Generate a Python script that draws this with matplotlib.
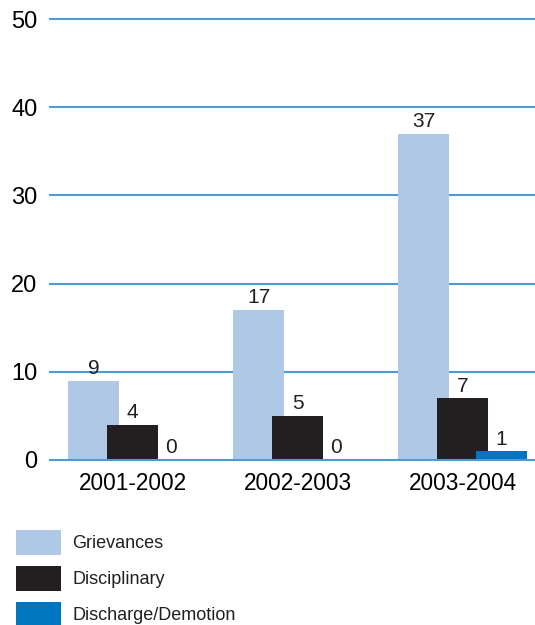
import matplotlib
matplotlib.use("Agg")
import matplotlib.pyplot as plt
from matplotlib.patches import Rectangle
import numpy as np

plt.rcParams['font.family'] = ['Liberation Sans', 'DejaVu Sans']

categories = ["2001-2002", "2002-2003", "2003-2004"]
series_names = ["Grievances", "Disciplinary", "Discharge/Demotion"]
grievances = [9, 17, 37]
disciplinary = [4, 5, 7]
discharge = [0, 0, 1]
yticks = [0, 10, 20, 30, 40, 50]

colors = ["#aec8e6", "#231f20", "#0076c0"]
grid_color = "#4a9bd6"

W, H = 535, 625
fig = plt.figure(figsize=(W / 100, H / 100), dpi=100)
ax = fig.add_axes([50 / W, (H - 460) / H, (W - 50) / W, (460 - 19) / H])

x = np.arange(len(categories))
width = 0.309
offset = 0.236
data = [grievances, disciplinary, discharge]
for i, (vals, col) in enumerate(zip(data, colors)):
    pos = x + (i - 1) * offset
    ax.bar(pos, vals, width=width, color=col, zorder=2 + i, linewidth=0)
    for p, v in zip(pos, vals):
        ax.text(p, v + 0.3, str(v), ha="center", va="bottom", fontsize=15,
                color="#231f20", zorder=10)

ax.set_xlim(-0.5, (W - 132.5) / 165)
ax.set_ylim(0, 50)
ax.set_yticks(yticks)
ax.set_yticklabels([str(t) for t in yticks], fontsize=17, color="black")
ax.set_xticks(x)
ax.set_xticklabels(categories, fontsize=16.3, color="black")
ax.tick_params(axis="both", length=0)
ax.tick_params(axis="y", pad=9)
ax.tick_params(axis="x", pad=9)
for sp in ax.spines.values():
    sp.set_visible(False)
for t in yticks:
    ax.axhline(t, color=grid_color, lw=1.5, zorder=1 if t else 8, clip_on=False)

# legend
ys = [530, 566, 602]
for y0, name, col in zip(ys, series_names, colors):
    fig.add_artist(Rectangle((16 / W, (H - y0 - 25) / H), 45 / W, 25 / H,
                             transform=fig.transFigure, color=col, lw=0))
    fig.text(72 / W, (H - y0 - 13.5) / H, name, fontsize=13, va="center",
             ha="left", color="#231f20")

fig.savefig("out.png", dpi=100)
